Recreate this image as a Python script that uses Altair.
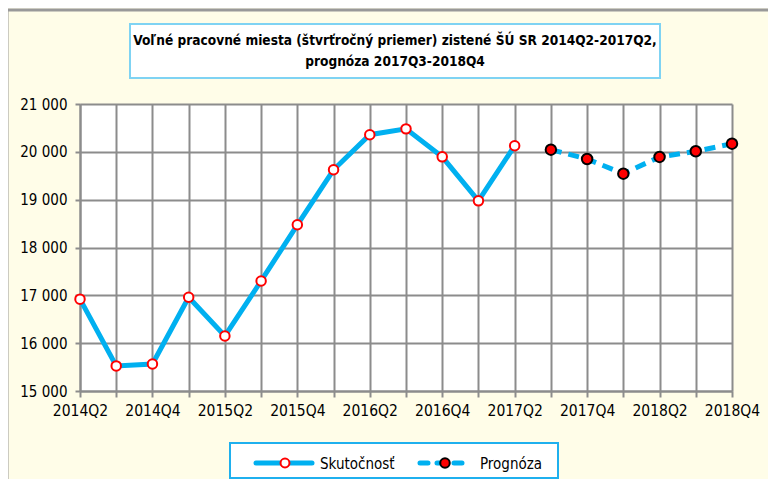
import altair as alt
import pandas as pd

quarters = ["2014Q2", "2014Q3", "2014Q4", "2015Q1", "2015Q2", "2015Q3", "2015Q4",
            "2016Q1", "2016Q2", "2016Q3", "2016Q4", "2017Q1", "2017Q2",
            "2017Q3", "2017Q4", "2018Q1", "2018Q2", "2018Q3", "2018Q4"]
actual_q = quarters[:13]
actual_v = [16920, 15525, 15565, 16960, 16150, 17300, 18475, 19625, 20358, 20480, 19895, 18975, 20128]
fc_q = quarters[13:]
fc_v = [20046, 19850, 19544, 19893, 20012, 20170]
labeled = ["2014Q2", "2014Q4", "2015Q2", "2015Q4", "2016Q2", "2016Q4",
           "2017Q2", "2017Q4", "2018Q2", "2018Q4"]
y_ticks = [15000, 16000, 17000, 18000, 19000, 20000, 21000]
title_lines = ["Voľné pracovné miesta (štvrťročný priemer) zistené ŠÚ SR 2014Q2-2017Q2,",
               "prognóza 2017Q3-2018Q4"]
legend_names = ["Skutočnosť", "Prognóza"]

FONT = "Liberation Sans Narrow, Arial Narrow, DejaVu Sans Condensed, sans-serif"
BLUE = "#00B0F0"
GRID = "#8C8C8C"
W, H = 652, 287

df_a = pd.DataFrame({"q": actual_q, "v": actual_v})
df_f = pd.DataFrame({"q": fc_q, "v": fc_v})

lab_arr = "[" + ",".join("'%s'" % s for s in labeled) + "]"
xenc = alt.X("q:O", sort=quarters,
             scale=alt.Scale(domain=quarters, type="point", padding=0),
             axis=alt.Axis(title=None, labelAngle=0, grid=True, gridColor=GRID, gridWidth=2,
                           domainColor=GRID, domainWidth=2, tickColor=GRID, tickWidth=2,
                           tickSize=6, labelPadding=6, labelFont=FONT, labelFontSize=15.5,
                           labelColor="#000", labelExpr="indexof(%s, datum.value) >= 0 ? datum.value : ''" % lab_arr))
yenc = alt.Y("v:Q", scale=alt.Scale(domain=[15000, 21000], nice=False, zero=False),
             axis=alt.Axis(title=None, values=y_ticks, grid=True, gridColor=GRID, gridWidth=2,
                           domainColor=GRID, domainWidth=2, tickColor=GRID, tickWidth=2,
                           tickSize=5, labelPadding=8, labelFont=FONT, labelFontSize=15,
                           labelColor="#000", labelExpr="replace(format(datum.value, ',d'), ',', ' ')"))

base_a = alt.Chart(df_a).encode(x=xenc, y=yenc)
base_f = alt.Chart(df_f).encode(x=xenc, y=yenc)

line_a = base_a.mark_line(color=BLUE, strokeWidth=5)
pts_a = base_a.mark_point(shape="circle", filled=True, fill="white", stroke="red",
                          strokeWidth=2, size=90, opacity=1)
line_f = base_f.mark_line(color=BLUE, strokeWidth=5, strokeDash=[11, 7])
pts_f = base_f.mark_point(shape="circle", filled=True, fill="red", stroke="black",
                          strokeWidth=2, size=110, opacity=1)

one = alt.Chart(pd.DataFrame({"a": [0]}))

# frame lines
frame_top = one.mark_rule(color="#999999", strokeWidth=3).encode(
    x=alt.value(-73), x2=alt.value(700), y=alt.value(-94))
frame_left = one.mark_rule(color="#999999", strokeWidth=3).encode(
    x=alt.value(-73), y=alt.value(-94), y2=alt.value(400))

# title box
title_box = one.mark_rect(fill="white", stroke="#7FD3F3", strokeWidth=2).encode(
    x=alt.value(50), x2=alt.value(580), y=alt.value(-80), y2=alt.value(-26))
title_t1 = one.mark_text(text=title_lines[0], font=FONT, fontSize=13.6, fontWeight="bold",
                         align="center", baseline="middle", color="#000").encode(
    x=alt.value(315), y=alt.value(-63))
title_t2 = one.mark_text(text=title_lines[1], font=FONT, fontSize=13.6, fontWeight="bold",
                         align="center", baseline="middle", color="#000").encode(
    x=alt.value(315), y=alt.value(-42))

# legend
leg_box = one.mark_rect(fill="white", stroke="#1FB0EE", strokeWidth=2).encode(
    x=alt.value(150), x2=alt.value(478), y=alt.value(339), y2=alt.value(374))
leg_l1 = one.mark_rule(color=BLUE, strokeWidth=5, strokeCap="round").encode(
    x=alt.value(176), x2=alt.value(232), y=alt.value(359))
leg_p1 = one.mark_point(shape="circle", filled=True, fill="white", stroke="red",
                        strokeWidth=2, size=80, opacity=1).encode(x=alt.value(205), y=alt.value(359))
leg_t1 = one.mark_text(text=legend_names[0], font=FONT, fontSize=15, align="left",
                       baseline="middle", color="#000").encode(x=alt.value(240), y=alt.value(360))
leg_l2 = one.mark_rule(color=BLUE, strokeWidth=5, strokeCap="round", strokeDash=[8, 9]).encode(
    x=alt.value(340), x2=alt.value(390), y=alt.value(359))
leg_p2 = one.mark_point(shape="circle", filled=True, fill="red", stroke="black",
                        strokeWidth=2, size=90, opacity=1).encode(x=alt.value(365), y=alt.value(359))
leg_t2 = one.mark_text(text=legend_names[1], font=FONT, fontSize=15, align="left",
                       baseline="middle", color="#000").encode(x=alt.value(400), y=alt.value(360))

chart = alt.layer(
    frame_top, frame_left, title_box, title_t1, title_t2,
    line_a, line_f, pts_a, pts_f,
    leg_box, leg_l1, leg_p1, leg_t1, leg_l2, leg_p2, leg_t2,
).properties(
    width=W, height=H,
    background="#FFFDE8",
    padding={"left": 72, "top": 96, "right": 36, "bottom": 88},
    autosize=alt.AutoSizeParams(type="none"),
).configure_view(fill="white", stroke=None)

chart.save("out.html", embed_options={"renderer": "svg", "actions": False})
